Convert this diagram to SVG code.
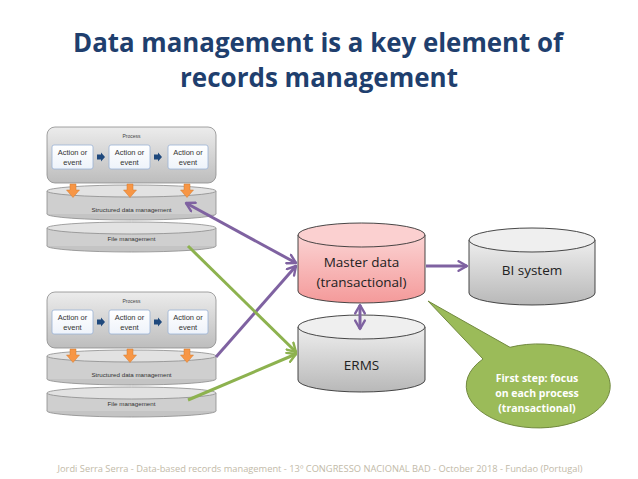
<svg xmlns="http://www.w3.org/2000/svg" width="638" height="479" viewBox="0 0 638 479">
<defs>
<linearGradient id="gProc" x1="0" y1="0" x2="0" y2="1"><stop offset="0" stop-color="#ececec"/><stop offset="1" stop-color="#bdbdbd"/></linearGradient>
<linearGradient id="gPink" x1="0" y1="0" x2="0" y2="1"><stop offset="0" stop-color="#fbd3d3"/><stop offset="1" stop-color="#f49a9a"/></linearGradient>
<linearGradient id="gCylGray" x1="0" y1="0" x2="0" y2="1"><stop offset="0" stop-color="#eeeeee"/><stop offset="1" stop-color="#b8b8b8"/></linearGradient>
<linearGradient id="gAct" x1="0" y1="0" x2="0" y2="1"><stop offset="0" stop-color="#ffffff"/><stop offset="1" stop-color="#eef3fa"/></linearGradient>
<marker id="mP" viewBox="0 0 10 10" refX="8" refY="5" markerWidth="4" markerHeight="4" orient="auto-start-reverse" markerUnits="strokeWidth"><path d="M1,1 L8,5 L1,9" fill="none" stroke="#7f62a1" stroke-width="2" stroke-linecap="round" stroke-linejoin="round"/></marker>
<marker id="mG" viewBox="0 0 10 10" refX="8" refY="5" markerWidth="4" markerHeight="4" orient="auto-start-reverse" markerUnits="strokeWidth"><path d="M1,1 L8,5 L1,9" fill="none" stroke="#8db24f" stroke-width="2" stroke-linecap="round" stroke-linejoin="round"/></marker>
<g id="procGroup">
  <ellipse cx="131.5" cy="246" rx="84.5" ry="6" class="disk"/>
  <rect x="47" y="228" width="169" height="18" class="body"/>
  <line x1="47" y1="228" x2="47" y2="246" class="edge"/><line x1="216" y1="228" x2="216" y2="246" class="edge"/>
  <ellipse cx="131.5" cy="228" rx="84.5" ry="6" class="top"/>
  <ellipse cx="131.5" cy="214" rx="84.5" ry="6" class="disk"/>
  <rect x="47" y="191" width="169" height="23" class="body"/>
  <line x1="47" y1="191" x2="47" y2="214" class="edge"/><line x1="216" y1="191" x2="216" y2="214" class="edge"/>
  <ellipse cx="131.5" cy="191" rx="84.5" ry="6" class="top"/>
  <text x="131.5" y="212" class="tiny">Structured data management</text>
  <text x="131.5" y="241" class="tiny">File management</text>
  <rect x="47" y="127" width="169" height="56" rx="8" fill="url(#gProc)" stroke="#8c8c8c" stroke-width="0.8"/>
  <text x="131.5" y="138" class="proc">Process</text>
  <rect x="52" y="145" width="41" height="24" rx="2" class="act"/>
  <rect x="109" y="145" width="41" height="24" rx="2" class="act"/>
  <rect x="168" y="145" width="40" height="24" rx="2" class="act"/>
  <text x="72.5" y="155" class="at">Action or</text><text x="72.5" y="164.5" class="at">event</text>
  <text x="129.5" y="155" class="at">Action or</text><text x="129.5" y="164.5" class="at">event</text>
  <text x="188" y="155" class="at">Action or</text><text x="188" y="164.5" class="at">event</text>
  <polygon points="97,154.5 101,154.5 101,152.5 105,157 101,161.5 101,159.5 97,159.5" fill="#1f497d"/>
  <polygon points="154,154.5 158,154.5 158,152.5 162,157 158,161.5 158,159.5 154,159.5" fill="#1f497d"/>
  <polygon points="70,184 76,184 76,190 79.5,190 73,197.5 66.5,190 70,190" class="or"/>
  <polygon points="127,184 133,184 133,190 136.5,190 130,197.5 123.5,190 127,190" class="or"/>
  <polygon points="184,184 190,184 190,190 193.5,190 187,197.5 180.5,190 184,190" class="or"/>
</g>
</defs>
<style>
.disk{fill:#c4c4c4;stroke:#8c8c8c;stroke-width:0.8}
.body{fill:#cfcfcf;stroke:none}
.edge{stroke:#8c8c8c;stroke-width:0.8}
.top{fill:#e2e2e2;stroke:#8c8c8c;stroke-width:0.8}
.tiny{font-family:"Liberation Sans",Arial,sans-serif;font-size:6.2px;fill:#333;text-anchor:middle}
.proc{font-family:"Liberation Sans",Arial,sans-serif;font-size:5px;fill:#444;text-anchor:middle}
.at{font-family:"Liberation Sans",Arial,sans-serif;font-size:7.5px;fill:#333;text-anchor:middle}
.act{fill:url(#gAct);stroke:#9ab3d5;stroke-width:0.8}
.or{fill:#f79646;stroke:#d27a2e;stroke-width:0.5}
.title{font-family:"Open Sans","Liberation Sans",sans-serif;font-weight:bold;font-size:27px;fill:#1f3f6e;text-anchor:middle}
.lbl{font-family:"Open Sans","Liberation Sans",sans-serif;font-size:13.5px;fill:#222;text-anchor:middle}
.call{font-family:"Open Sans","Liberation Sans",sans-serif;font-weight:bold;font-size:10.5px;fill:#ffffff;text-anchor:middle}
.foot{font-family:"Open Sans","Liberation Sans",sans-serif;font-size:9px;fill:#c2baa8;text-anchor:middle}
.pl{stroke:#7f62a1;stroke-width:3;fill:none}
.gl{stroke:#8db24f;stroke-width:3;fill:none}
</style>
<rect width="638" height="479" fill="#ffffff"/>
<g id="title">
  <text x="318" y="52" class="title" textLength="490" lengthAdjust="spacingAndGlyphs">Data management is a key element of</text>
  <text x="319" y="87" class="title" textLength="278" lengthAdjust="spacingAndGlyphs">records management</text>
</g>
<g id="process-top"><use href="#procGroup"/></g>
<g id="process-bottom"><use href="#procGroup" transform="translate(0,165)"/></g>
<g id="master-data">
  <path d="M298,235 V291 A63.5,12 0 0 0 425,291 V235 Z" fill="url(#gPink)" stroke="#333" stroke-width="0.9"/>
  <ellipse cx="361.5" cy="235" rx="63.5" ry="12" fill="#fbd0d0" stroke="#333" stroke-width="0.9"/>
  <text x="361.5" y="267" class="lbl">Master data</text>
  <text x="361.5" y="287" class="lbl">(transactional)</text>
</g>
<g id="erms">
  <path d="M298,327 V380 A63.5,12 0 0 0 425,380 V327 Z" fill="url(#gCylGray)" stroke="#333" stroke-width="0.9"/>
  <ellipse cx="361.5" cy="327" rx="63.5" ry="12" fill="#efefef" stroke="#333" stroke-width="0.9"/>
  <text x="361.5" y="370" class="lbl">ERMS</text>
</g>
<g id="bi-system">
  <path d="M469,240 V293 A63,12 0 0 0 595,293 V240 Z" fill="url(#gCylGray)" stroke="#333" stroke-width="0.9"/>
  <ellipse cx="532" cy="240" rx="63" ry="12" fill="#efefef" stroke="#333" stroke-width="0.9"/>
  <text x="532" y="275" class="lbl">BI system</text>
</g>
<g id="connectors">
  <line x1="186" y1="203" x2="296" y2="263" class="pl" marker-start="url(#mP)" marker-end="url(#mP)"/>
  <line x1="216" y1="357" x2="296" y2="266" class="pl" marker-end="url(#mP)"/>
  <line x1="426" y1="266" x2="467" y2="266" class="pl" marker-end="url(#mP)"/>
  <line x1="360" y1="305" x2="360" y2="329" class="pl" marker-start="url(#mP)" marker-end="url(#mP)"/>
  <line x1="188" y1="246" x2="296" y2="352" class="gl" marker-end="url(#mG)"/>
  <line x1="188" y1="400" x2="296" y2="354" class="gl" marker-end="url(#mG)"/>
</g>
<g id="callout">
  <path d="M483,359 L428,301 L510,347.3 A72,42 0 1 1 483,359 Z" fill="#9bbb59" stroke="#71893f" stroke-width="1"/>
  <text x="537" y="382" class="call">First step: focus</text>
  <text x="537" y="397" class="call">on each process</text>
  <text x="537" y="412" class="call">(transactional)</text>
</g>
<g id="footer">
  <text x="320" y="472" class="foot" textLength="525" lengthAdjust="spacingAndGlyphs">Jordi Serra Serra - Data-based records management - 13º CONGRESSO NACIONAL BAD - October 2018 - Fundao (Portugal)</text>
</g>
</svg>
